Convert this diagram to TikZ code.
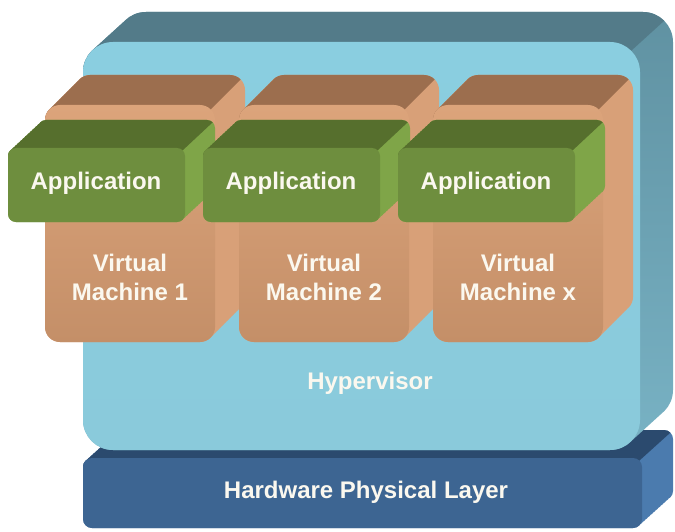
\documentclass[tikz,border=0pt]{standalone}
\usepackage{fontspec}
\setmainfont{Liberation Sans}
\usepackage{tikz}

\definecolor{hwfront}{HTML}{3D6592}
\definecolor{hwtop}{HTML}{2B4A6E}
\definecolor{hwside}{HTML}{4B7BAE}
\definecolor{hyptop}{HTML}{537B89}
\definecolor{hypsideA}{HTML}{5D8E9E}
\definecolor{hypsideB}{HTML}{7BB6C8}
\definecolor{hypA}{HTML}{8ACEE0}
\definecolor{hypB}{HTML}{62B2CA}
\definecolor{hypC}{HTML}{8ACADB}
\definecolor{vmfront}{HTML}{C48F68}
\definecolor{vmlight}{HTML}{DCA47B}
\definecolor{vmtop}{HTML}{9C6E4E}
\definecolor{vmside}{HTML}{D8A078}
\definecolor{appfront}{HTML}{6E8E3E}
\definecolor{apptop}{HTML}{566F2D}
\definecolor{appside}{HTML}{7FA548}
\definecolor{lbltext}{HTML}{FBF8EF}

% #1,#2 front top left, #3,#4 front bottom right, #5 depth right, #6 depth up, #7 corner, #8 style prefix
\newcommand{\drawslab}[8]{%
  \begin{scope}
    \clip[rounded corners=#7pt] \foreach \t in {0,...,12} {({#1+\t/12*#5},{#2-\t/12*#6}) rectangle ({#3+\t/12*#5},{#4-\t/12*#6})};
    \path[#8 side] ({#1-50},{#2-#6-50}) rectangle ({#3+#5+50},{#4+50});
    \path[#8 top] ({#3-0.29*#7+2*#5},{#2+0.29*#7-2*#6}) -- ({#3-0.29*#7-#5},{#2+0.29*#7+#6})
      -- ({#1-50},{#2+0.29*#7+#6}) -- ({#1-50},{#2-3*#6}) -- ({#3-0.29*#7+2*#5},{#2-3*#6}) -- cycle;
  \end{scope}
  \path[#8 front, rounded corners=#7pt] (#1,#2) rectangle (#3,#4);
}

\tikzset{
  hw front/.style={fill=hwfront},
  hw top/.style={fill=hwtop},
  hw side/.style={fill=hwside},
  hyp front/.style={top color=hypA, middle color=hypB, bottom color=hypC},
  hyp top/.style={fill=hyptop},
  hyp side/.style={top color=hypsideA, bottom color=hypsideB},
  vm front/.style={top color=vmlight, middle color=vmfront, bottom color=vmfront},
  vm top/.style={fill=vmtop},
  vm side/.style={fill=vmside},
  app front/.style={fill=appfront},
  app top/.style={fill=apptop},
  app side/.style={fill=appside},
  lbl/.style={text=lbltext, font=\bfseries\fontsize{24}{29}\selectfont, inner sep=0pt, align=center}
}

\begin{document}
\begin{tikzpicture}[x=1pt, y=-1pt]
  \useasboundingbox[fill=white] (0,0) rectangle (675,532);

  % hardware and hypervisor
  \drawslab{83}{458}{642}{528}{31}{28}{9}{hw}
  \drawslab{83}{42}{640}{450}{33}{30}{30}{hyp}

  % virtual machines, then applications
  \foreach \i in {0,1,2}
    \drawslab{45+194*\i}{105}{215+194*\i}{342}{30}{30}{15}{vm};
  \foreach \i in {0,1,2}
    \drawslab{8+195*\i}{148}{185+195*\i}{222}{30}{28}{8}{app};

  \foreach \i/\n in {0/1,1/2,2/x} {
    \node[lbl] (app\n) at (96+195*\i,183) {Application};
    \node[lbl] (vm\n) at (130+194*\i,277) {Virtual\\Machine \n};
  }
  \node[lbl] (hyp) at (370,383) {Hypervisor};
  \node[lbl] (hw) at (366,492) {Hardware Physical Layer};
\end{tikzpicture}
\end{document}
